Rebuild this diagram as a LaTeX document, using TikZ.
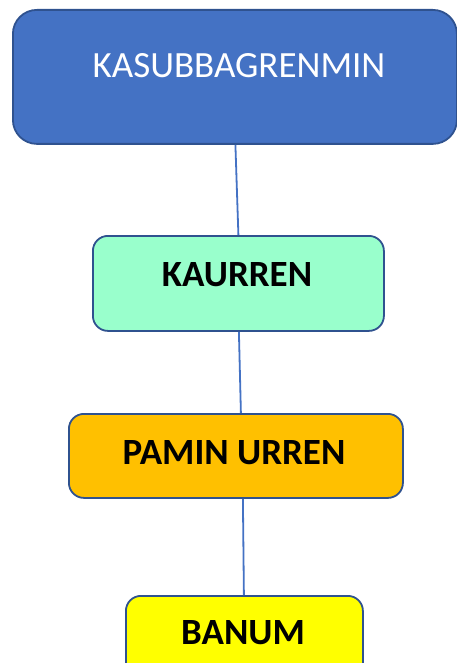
\documentclass[tikz,border=0pt]{standalone}
\usepackage{fontspec}
\setmainfont{Carlito}
\usetikzlibrary{calc}
\definecolor{boxline}{HTML}{2F528F}
\definecolor{linkblue}{HTML}{4472C4}
\definecolor{headfill}{HTML}{4472C4}
\definecolor{mintfill}{HTML}{99FFCC}
\definecolor{amberfill}{HTML}{FFC000}
\definecolor{yellowfill}{HTML}{FFFF00}
\begin{document}
\begin{tikzpicture}[x=1pt,y=-1pt,
  orgbox/.style={draw=boxline, line width=1.8pt, rounded corners=#1, inner sep=0pt, anchor=north west},
  headtext/.style={font=\fontsize{37}{37}\selectfont, text=white, inner sep=0pt},
  unittext/.style={font=\fontsize{37}{37}\selectfont\bfseries, text=black, inner sep=0pt},
  link/.style={draw=linkblue, line width=1.8pt}]
\useasboundingbox (0,0) rectangle (457,663);
\clip (0,0) rectangle (457,663);

% boxes
\node[orgbox=24pt, fill=headfill, minimum width=444pt, minimum height=134pt] (kasub) at (12,9) {};
\node[orgbox=15pt, fill=mintfill, minimum width=291pt, minimum height=95pt] (kaur) at (92,235) {};
\node[orgbox=15pt, fill=amberfill, minimum width=334pt, minimum height=84pt] (pamin) at (68,413) {};
\node[orgbox=15pt, fill=yellowfill, minimum width=237pt, minimum height=90pt] (banum) at (125,595) {};

% labels
\node[headtext] (kasubT) at (239,65.5) {KASUBBAGRENMIN};
\node[unittext] (kaurT) at (237,274.5) {KAURREN};
\node[unittext] (paminT) at (234,453) {PAMIN URREN};
\node[unittext] (banumT) at (243,633) {BANUM};

% connectors
\draw[link] ($(kasub.south)+(0.5,0)$) -- (kaur.north);
\draw[link] ($(kaur.south)+(0.5,0)$) -- ($(pamin.north)+(5,0)$);
\draw[link] ($(pamin.south)+(7,0)$) -- ($(banum.north)+(-0.5,0)$);
\end{tikzpicture}
\end{document}
